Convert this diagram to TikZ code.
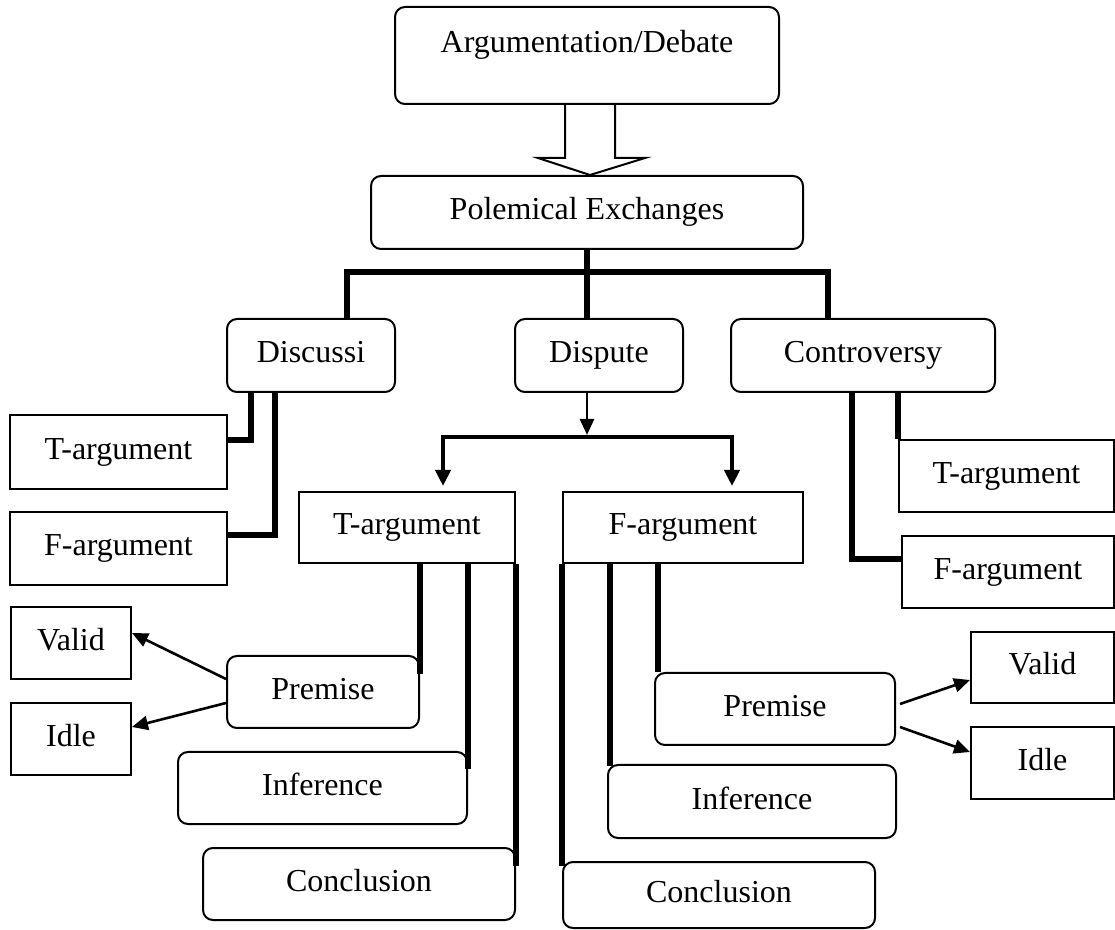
\documentclass[tikz,border=0pt]{standalone}
\usepackage{fontspec}
\setmainfont{Liberation Serif}
\usetikzlibrary{arrows.meta,calc}

\begin{document}
\begin{tikzpicture}[x=0.5pt, y=-0.5pt,
    every node/.style={font=\fontsize{16}{19}\selectfont, text height=11pt, text depth=3.5pt, inner sep=0pt, line width=1pt},
    rbox/.style={draw, rounded corners=5pt},
    sbox/.style={draw},
    link/.style={line width=2.6pt},
    fork/.style={line width=2pt},
    pointer/.style={line width=1.3pt, -{Triangle[length=8pt, width=7pt]}}]
\useasboundingbox (0,0) rectangle (1115,930);

    \node[rbox, minimum width=192pt, minimum height=48.5pt, text depth=13.5pt] (arg) at (587,55.5) {Argumentation/Debate};
    \node[rbox, minimum width=216pt, minimum height=36.5pt] (pol) at (587,212.5) {Polemical Exchanges};
    \draw[line width=1pt] ($(arg.south)+(-22,0)$) -- ++(0,53) -- ++(-27,0) -- ($(pol.north)+(3,0)$) -- ($(arg.south)+(58,53)$) -- ++(-30,0) -- ($(arg.south)+(28,0)$);

    \node[rbox, minimum width=84pt, minimum height=36.5pt] (dsc) at (311,355.5) {Discussi};
    \node[rbox, minimum width=84pt, minimum height=36.5pt] (dsp) at (599,355.5) {Dispute};
    \node[rbox, minimum width=132pt, minimum height=36.5pt] (ctr) at (863,355.5) {Controversy};
    \coordinate (barL) at (347,272);
    \coordinate (barR) at (828,272);
    \draw[link] (pol.south) -- (pol.south |- dsp.north);
    \draw[link] (barL |- dsc.north) -- (barL) -- (barR) -- (barR |- ctr.north);

    \node[sbox, minimum width=108.5pt, minimum height=37pt] (dscT) at (118.5,452) {T-argument};
    \node[sbox, minimum width=108.5pt, minimum height=36.5pt] (dscF) at (118.5,548.5) {F-argument};
    \draw[link] ($(dsc.south)+(-60,0)$) |- ($(dscT.east)+(0,-12)$);
    \draw[link] ($(dsc.south)+(-36,0)$) |- ($(dscF.east)+(0,-13.5)$);

    \node[sbox, minimum width=107.5pt, minimum height=36pt] (ctrT) at (1006.5,476) {T-argument};
    \node[sbox, minimum width=106pt, minimum height=36pt] (ctrF) at (1008,572) {F-argument};
    \draw[link] (ctrT.north west |- ctr.south) -- (ctrT.north west);
    \draw[link] ($(ctr.south)+(-11,0)$) |- ($(ctrF.west)+(0,-13)$);

    \node[sbox, minimum width=108pt, minimum height=35.5pt] (tArg) at (407,527.5) {T-argument};
    \node[sbox, minimum width=120pt, minimum height=35.5pt] (fArg) at (683,527.5) {F-argument};
    \coordinate (forkL) at (443,437);
    \coordinate (forkR) at (732,437);
    \draw[pointer, -{Triangle[length=8pt, width=7pt]}, shorten >=1pt] (pol.south |- dsp.south) -- (pol.south |- forkL);
    \draw[fork, {Triangle[length=8pt, width=7.5pt]}-{Triangle[length=8pt, width=7.5pt]}, shorten <=2.5pt, shorten >=2.5pt] (forkL |- tArg.north) |- (forkR) -- (forkR |- fArg.north);

    \node[rbox, minimum width=96pt, minimum height=36pt] (tPrem) at (323,692) {Premise};
    \node[rbox, minimum width=144.5pt, minimum height=36pt] (tInf) at (322.5,788) {Inference};
    \node[rbox, minimum width=156pt, minimum height=36pt] (tCon) at (359,884) {Conclusion};
    \draw[link] (tPrem.north east |- tArg.south) -- ($(tPrem.north east)+(0,19)$);
    \draw[link] (tInf.north east |- tArg.south) -- ($(tInf.north east)+(0,18)$);
    \draw[link] (tCon.north east |- tArg.south) -- ($(tCon.north east)+(0,19)$);

    \node[rbox, minimum width=120pt, minimum height=36pt] (fPrem) at (775,709) {Premise};
    \node[rbox, minimum width=144pt, minimum height=36.5pt] (fInf) at (752,801.5) {Inference};
    \node[rbox, minimum width=156pt, minimum height=33pt] (fCon) at (719,895) {Conclusion};
    \draw[link] ($(fPrem.north west |- fArg.south)+(4,0)$) -- ($(fPrem.north west)+(4,0)$);
    \draw[link] ($(fInf.north west |- fArg.south)+(3,0)$) -- ($(fInf.north west)+(3,2)$);
    \draw[link] (fCon.north west |- fArg.south) -- ($(fCon.north west)+(0,5)$);

    \node[sbox, minimum width=60pt, minimum height=36pt] (tValid) at (71,643) {Valid};
    \node[sbox, minimum width=60pt, minimum height=36pt] (tIdle) at (71,739) {Idle};
    \draw[pointer] ($(tPrem.west)+(0,-13)$) -- ($(tValid.east)+(0,-10)$);
    \draw[pointer] ($(tPrem.west)+(0,11)$) -- ($(tIdle.east)+(0,-12)$);

    \node[sbox, minimum width=71.5pt, minimum height=35.5pt] (fValid) at (1042.5,667.5) {Valid};
    \node[sbox, minimum width=71.5pt, minimum height=36pt] (fIdle) at (1042.5,763) {Idle};
    \draw[pointer] ($(fPrem.east)+(4,-5)$) -- ($(fValid.west)+(0,12.5)$);
    \draw[pointer] ($(fPrem.east)+(4,18)$) -- ($(fIdle.west)+(0,-11)$);
\end{tikzpicture}
\end{document}
